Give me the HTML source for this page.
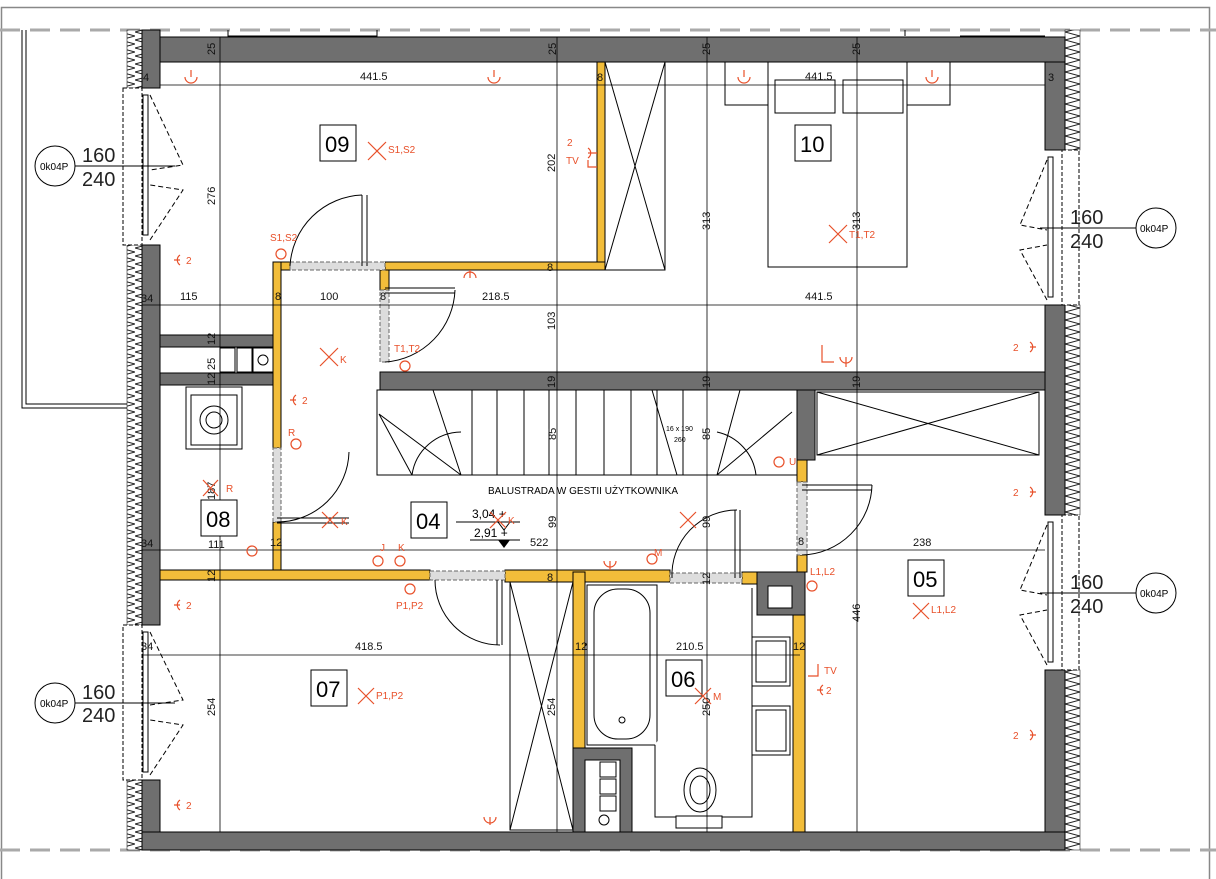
<!DOCTYPE html>
<html><head><meta charset="utf-8"><style>
html,body{margin:0;padding:0;background:#fff}
svg{display:block}
text{font-family:"Liberation Sans",sans-serif}
.d{font-size:11px;fill:#111}
.o{fill:#e8502a;font-size:10px}
.rn{font-size:22px;fill:#000}
</style></head><body>
<svg width="1216" height="879" viewBox="0 0 1216 879" xmlns="http://www.w3.org/2000/svg">
<defs>
<pattern id="h" width="15" height="8" patternUnits="userSpaceOnUse">
<rect width="15" height="8" fill="#fff"/>
<path d="M0 0 L15 4 L0 8" fill="none" stroke="#222" stroke-width="1"/>
</pattern>
</defs>
<!-- frame -->
<path d="M1.5 879 V7.5 H1209.5 V879" fill="none" stroke="#888" stroke-width="1.5"/>
<line x1="0" y1="30" x2="1216" y2="30" stroke="#aaa" stroke-width="3" stroke-dasharray="20 10"/>
<line x1="0" y1="850" x2="1216" y2="850" stroke="#aaa" stroke-width="3" stroke-dasharray="20 10"/>
<!-- balcony -->
<path d="M22 30 V408 H127 M26 30 V404 H127" fill="none" stroke="#000" stroke-width="1"/>
<!-- insulation -->
<rect x="127" y="30" width="15" height="58" fill="url(#h)" stroke="#000" stroke-width=".5"/>
<rect x="127" y="245" width="15" height="380" fill="url(#h)" stroke="#000" stroke-width=".5"/>
<rect x="127" y="780" width="15" height="70" fill="url(#h)" stroke="#000" stroke-width=".5"/>
<rect x="1065" y="30" width="15" height="120" fill="url(#h)" stroke="#000" stroke-width=".5"/>
<rect x="1065" y="305" width="15" height="210" fill="url(#h)" stroke="#000" stroke-width=".5"/>
<rect x="1065" y="670" width="15" height="180" fill="url(#h)" stroke="#000" stroke-width=".5"/>
<!-- exterior walls -->
<g fill="#6f6f6f" stroke="#000" stroke-width="1">
<rect x="142" y="37" width="923" height="25"/>
<rect x="142" y="30" width="18" height="58"/>
<rect x="142" y="245" width="18" height="380"/>
<rect x="142" y="780" width="18" height="70"/>
<rect x="1045" y="62" width="20" height="88"/>
<rect x="1045" y="305" width="20" height="210"/>
<rect x="1045" y="670" width="20" height="180"/>
<rect x="142" y="832" width="923" height="18"/>
<!-- interior dark -->
<rect x="380" y="372" width="665" height="18"/>
<rect x="797" y="390" width="18" height="70"/>
<rect x="160" y="335" width="120" height="12"/>
<rect x="160" y="373" width="120" height="12"/>
<rect x="757" y="572" width="48" height="43"/>
<rect x="573" y="748" width="59" height="84"/>
</g>
<rect x="585" y="760" width="35" height="72" fill="#fff" stroke="#000"/>
<!-- top wall features -->
<path d="M228 30 V36 H377 V30 M905 36 V30 M960 36 H1045" fill="none" stroke="#000"/>
<!-- yellow walls -->
<g fill="#f2bd3a" stroke="#000" stroke-width="1">
<rect x="597" y="62" width="8" height="208"/>
<rect x="385" y="262" width="220" height="8"/>
<rect x="273" y="262" width="17" height="8"/>
<rect x="273" y="262" width="8" height="186"/>
<rect x="273" y="522" width="8" height="58"/>
<rect x="160" y="570" width="270" height="10"/>
<rect x="505" y="570" width="165" height="12"/>
<rect x="742" y="572" width="15" height="12"/>
<rect x="573" y="572" width="12" height="176"/>
<rect x="793" y="615" width="12" height="217"/>
<rect x="797" y="460" width="10" height="22"/>
<rect x="797" y="555" width="10" height="17"/>
<rect x="380" y="270" width="9" height="20"/>
</g>
<!-- door openings (grey) -->
<g fill="#ddd" stroke="#666" stroke-dasharray="4 2" stroke-width="1">
<rect x="290" y="262" width="95" height="8"/>
<rect x="380" y="290" width="9" height="72"/>
<rect x="273" y="448" width="8" height="74"/>
<rect x="430" y="571" width="75" height="9"/>
<rect x="670" y="573" width="72" height="10"/>
<rect x="797" y="482" width="10" height="73"/>
</g>
<!-- door swings -->
<g fill="none" stroke="#000" stroke-width="1">
<path d="M290 266 A75 75 0 0 1 362 195"/><path d="M362 195 V266 M367 195 V266"/>
<path d="M385 362 A75 75 0 0 0 455 290"/><path d="M385 288 H455 M385 293 H455"/>
<path d="M277 522 A72 72 0 0 0 349 452 "/><path d="M277 518 H349 M277 523 H349"/>
<path d="M435 580 A65 65 0 0 0 500 645"/><path d="M497 580 V645 M502 580 V645"/>
<path d="M672 578 A65 65 0 0 1 737 510"/><path d="M735 510 V578 M740 510 V578"/>
<path d="M802 555 A72 72 0 0 0 872 485"/><path d="M802 485 H872 M802 490 H872"/>
</g>
<!-- shaft items -->
<g fill="#fff" stroke="#000">
<rect x="220" y="348" width="15" height="24"/><rect x="237" y="348" width="15" height="24"/><rect x="253" y="348" width="20" height="24"/>
<circle cx="263" cy="360" r="5"/>
<rect x="186" y="387" width="56" height="62"/><rect x="191" y="395" width="46" height="50"/>
<circle cx="214" cy="420" r="14"/><circle cx="214" cy="420" r="8"/>
</g>
<!-- wardrobes -->
<g fill="#fff" stroke="#000">
<rect x="605" y="62" width="60" height="208"/><path d="M605 62 L665 270 M665 62 L605 270"/>
<rect x="817" y="392" width="222" height="63"/><path d="M817 392 L1039 455 M1039 392 L817 455"/>
<rect x="510" y="582" width="63" height="248"/><path d="M510 582 L573 830 M573 582 L510 830"/>
</g>
<!-- bed -->
<g fill="#fff" stroke="#000">
<rect x="725" y="62" width="43" height="43"/><rect x="907" y="62" width="43" height="43"/>
<rect x="768" y="62" width="139" height="205"/>
<rect x="775" y="80" width="60" height="33"/><rect x="843" y="80" width="60" height="33"/>
</g>
<!-- stairs -->
<g fill="none" stroke="#000" stroke-width="1">
<rect x="377" y="390" width="420" height="85"/>
<path d="M461 475 H717"/>
<path d="M472 390 V475 M497 390 V475 M524 390 V475 M549 390 V475 M576 390 V475 M604 390 V475 M631 390 V475 M657 390 V475 M683 390 V475"/>
<path d="M379 414 L461 475 M379 414 L412 475 M433 390 L461 475 M792 412 L717 475 M740 390 L717 475 M652 390 L677 475"/>
<path d="M412 475 A50 50 0 0 1 461 432 M717 432 A50 50 0 0 1 756 475"/>
</g>
<text x="488" y="494" font-size="10" transform="scale(1,1)">BALUSTRADA W GESTII UŻYTKOWNIKA</text>
<text x="666" y="431" font-size="7">16 x 190</text><text x="674" y="442" font-size="7">260</text>
<!-- bathroom -->
<g fill="#fff" stroke="#000">
<rect x="587" y="585" width="70" height="160"/><rect x="594" y="589" width="56" height="150" rx="24"/>
<circle cx="622" cy="720" r="3"/>
<path d="M655 745 V817 H752 V588"/>
<rect x="752" y="637" width="38" height="49"/><rect x="756" y="641" width="30" height="41"/>
<rect x="752" y="706" width="38" height="49"/><rect x="756" y="710" width="30" height="41"/>
<ellipse cx="700" cy="790" rx="16" ry="22"/><ellipse cx="700" cy="790" rx="10" ry="14"/>
<rect x="676" y="816" width="46" height="12"/>
<rect x="600" y="762" width="16" height="15"/><rect x="600" y="779" width="16" height="15"/><rect x="600" y="796" width="16" height="15"/>
<circle cx="604" cy="820" r="5"/>
<rect x="768" y="586" width="24" height="22"/>
</g>
<!-- windows -->
<g fill="#fff" stroke="#000" stroke-width="1">
<rect x="123" y="88" width="19" height="157" stroke-dasharray="4 2"/>
<rect x="123" y="625" width="19" height="155" stroke-dasharray="4 2"/>
<rect x="1062" y="150" width="17" height="155" stroke-dasharray="4 2"/>
<rect x="1062" y="515" width="17" height="155" stroke-dasharray="4 2"/>
<rect x="143" y="95" width="5" height="140"/><rect x="143" y="632" width="5" height="140"/>
<rect x="1048" y="157" width="5" height="140"/><rect x="1048" y="522" width="5" height="140"/>
</g>
<g fill="none" stroke="#000" stroke-dasharray="5 3">
<path d="M150 95 L183 165 L150 170 M150 240 L183 190 L150 185"/>
<path d="M150 632 L183 700 L150 705 M150 775 L183 725 L150 720"/>
<path d="M1047 160 L1020 225 L1047 230 M1047 300 L1020 250 L1047 245"/>
<path d="M1047 525 L1020 590 L1047 595 M1047 665 L1020 615 L1047 610"/>
</g>
<!-- window tags -->
<g fill="none" stroke="#000">
<circle cx="55" cy="166" r="20"/><path d="M75 166 H175"/>
<circle cx="55" cy="703" r="20"/><path d="M75 703 H175"/>
<circle cx="1156" cy="228" r="20"/><path d="M1136 228 H1040"/>
<circle cx="1156" cy="593" r="20"/><path d="M1136 593 H1040"/>
</g>
<g font-size="10"><text x="40" y="170">0k04P</text><text x="40" y="707">0k04P</text><text x="1140" y="232">0k04P</text><text x="1140" y="597">0k04P</text></g>
<g font-size="20" fill="#222"><text x="82" y="162">160</text><text x="82" y="186">240</text>
<text x="82" y="699">160</text><text x="82" y="722">240</text>
<text x="1070" y="224">160</text><text x="1070" y="248">240</text>
<text x="1070" y="589">160</text><text x="1070" y="613">240</text></g>
<!-- dimension lines -->
<g stroke="#000" stroke-width="0.8" fill="none">
<path d="M160 85 H1045 M142 305 H1045 M142 550 H1045 M142 655 H800"/>
<path d="M220 37 V832 M557 37 V832 M707 37 V832 M857 37 V832"/>
</g>
<g class="d">
<text x="360" y="80">441.5</text><text x="805" y="80">441.5</text>
<text x="180" y="300">115</text><text x="320" y="300">100</text><text x="482" y="300">218.5</text><text x="805" y="300">441.5</text>
<text x="208" y="548">111</text><text x="530" y="546">522</text><text x="913" y="546">238</text>
<text x="355" y="650">418.5</text><text x="676" y="650">210.5</text>
<text x="143" y="81">4</text><text x="1048" y="81">3</text><text x="141" y="302">34</text><text x="141" y="547">34</text><text x="141" y="650">34</text>
<text x="275" y="300">8</text><text x="380" y="300">8</text><text x="547" y="271">8</text><text x="597" y="81">8</text>
<text x="270" y="546">12</text><text x="575" y="650">12</text><text x="793" y="650">12</text><text x="798" y="545">8</text><text x="547" y="581">8</text>
</g>
<g class="d">
<text transform="translate(215,55) rotate(-90)">25</text><text transform="translate(556,55) rotate(-90)">25</text>
<text transform="translate(710,55) rotate(-90)">25</text><text transform="translate(860,55) rotate(-90)">25</text>
<text transform="translate(215,205) rotate(-90)">276</text><text transform="translate(555,172) rotate(-90)">202</text>
<text transform="translate(710,230) rotate(-90)">313</text><text transform="translate(860,230) rotate(-90)">313</text>
<text transform="translate(555,330) rotate(-90)">103</text>
<text transform="translate(555,388) rotate(-90)">19</text><text transform="translate(710,388) rotate(-90)">19</text><text transform="translate(860,388) rotate(-90)">19</text>
<text transform="translate(215,716) rotate(-90)">254</text><text transform="translate(555,716) rotate(-90)">254</text>
<text transform="translate(710,716) rotate(-90)">250</text><text transform="translate(860,622) rotate(-90)">446</text>
<text transform="translate(215,500) rotate(-90)">187</text>
<text transform="translate(215,345) rotate(-90)">12</text><text transform="translate(215,370) rotate(-90)">25</text><text transform="translate(215,385) rotate(-90)">12</text>
<text transform="translate(215,582) rotate(-90)">12</text>
<text transform="translate(556,440) rotate(-90)">85</text><text transform="translate(710,440) rotate(-90)">85</text>
<text transform="translate(556,528) rotate(-90)">99</text><text transform="translate(710,528) rotate(-90)">99</text>
<text transform="translate(710,585) rotate(-90)">12</text>
</g>
<!-- level -->
<g stroke="#000" fill="none"><path d="M456 522 H520 M470 540 H520"/></g>
<path d="M498 522 L510 522 L504 530 Z" fill="none" stroke="#000"/><path d="M498 540 L510 540 L504 548 Z" fill="#000"/>
<text x="472" y="518" font-size="12">3,04 +</text><text x="474" y="537" font-size="12">2,91 +</text>
<!-- room labels -->
<g fill="#fff" stroke="#000"><rect x="320" y="125" width="36" height="36"/><rect x="795" y="125" width="36" height="36"/>
<rect x="201" y="500" width="36" height="36"/><rect x="411" y="502" width="36" height="36"/><rect x="311" y="670" width="36" height="36"/>
<rect x="666" y="660" width="36" height="36"/><rect x="908" y="560" width="36" height="36"/></g>
<g class="rn"><text x="325" y="152">09</text><text x="800" y="152">10</text><text x="206" y="527">08</text><text x="416" y="529">04</text>
<text x="316" y="697">07</text><text x="671" y="687">06</text><text x="913" y="587">05</text></g>
<!-- orange symbols -->
<g stroke="#e8502a" fill="none" stroke-width="1.2">
<path d="M368 142 L386 160 M386 142 L368 160"/><path d="M829 225 L847 243 M847 225 L829 243"/>
<path d="M320 348 L338 366 M338 348 L320 366"/><path d="M203 480 L218 496 M218 480 L203 496"/>
<path d="M322 512 L338 528 M338 512 L322 528"/><path d="M490 512 L506 528 M506 512 L490 528"/>
<path d="M680 512 L696 528 M696 512 L680 528"/><path d="M358 688 L374 704 M374 688 L358 704"/>
<path d="M913 603 L929 619 M929 603 L913 619"/><path d="M695 688 L711 704 M711 688 L695 704"/>
<circle cx="281" cy="254" r="5"/><circle cx="405" cy="366" r="5"/><circle cx="296" cy="444" r="5"/>
<circle cx="378" cy="561" r="5"/><circle cx="400" cy="561" r="5"/><circle cx="410" cy="589" r="5"/>
<circle cx="652" cy="559" r="5"/><circle cx="779" cy="462" r="5"/><circle cx="812" cy="586" r="5"/>
<circle cx="252" cy="551" r="5"/>
<path d="M180 255 A6 6 0 0 0 180 265 M174 260 H180"/><path d="M180 600 A6 6 0 0 0 180 610 M174 605 H180"/>
<path d="M180 800 A6 6 0 0 0 180 810 M174 805 H180"/><path d="M296 395 A6 6 0 0 0 296 405 M290 400 H296"/>
<path d="M1030 342 A6 6 0 0 1 1030 352 M1036 347 H1030"/><path d="M1030 487 A6 6 0 0 1 1030 497 M1036 492 H1030"/>
<path d="M1030 730 A6 6 0 0 1 1030 740 M1036 735 H1030"/><path d="M823 685 A6 6 0 0 0 823 695 M817 690 H823"/>
<path d="M185 77 A6 6 0 0 0 197 77 M191 70 V77"/><path d="M488 77 A6 6 0 0 0 500 77 M494 70 V77"/>
<path d="M738 77 A6 6 0 0 0 750 77 M744 70 V77"/><path d="M926 77 A6 6 0 0 0 938 77 M932 70 V77"/>
<path d="M464 278 A6 6 0 0 1 476 278 M470 270 V278"/><path d="M604 561 A6 6 0 0 0 616 561 M610 570 V561"/>
<path d="M484 817 A6 6 0 0 0 496 817 M490 825 V817"/><path d="M840 357 A6 6 0 0 0 852 357 M846 367 V357"/>
<path d="M588 148 A6 6 0 0 1 588 158 M588 153 H597"/><path d="M588 160 V167 H597 M822 345 V362 H834"/>
<path d="M818 664 V676 H808"/>
</g>
<g class="o">
<text x="388" y="153">S1,S2</text><text x="849" y="238">T1,T2</text><text x="270" y="241">S1,S2</text><text x="394" y="352">T1,T2</text>
<text x="340" y="363">K</text><text x="226" y="492">R</text><text x="288" y="436">R</text><text x="341" y="525">K</text><text x="508" y="524">K</text>
<text x="376" y="699">P1,P2</text><text x="396" y="609">P1,P2</text><text x="931" y="613">L1,L2</text><text x="810" y="575">L1,L2</text>
<text x="713" y="700">M</text><text x="654" y="556">M</text><text x="789" y="465">U</text><text x="398" y="551">K</text><text x="380" y="551">J</text>
<text x="567" y="146">2</text><text x="566" y="164">TV</text><text x="186" y="264">2</text><text x="186" y="609">2</text><text x="186" y="809">2</text>
<text x="302" y="404">2</text><text x="1013" y="351">2</text><text x="1013" y="496">2</text><text x="1013" y="739">2</text>
<text x="826" y="694">2</text><text x="824" y="674">TV</text>
</g>
</svg>
</body></html>
